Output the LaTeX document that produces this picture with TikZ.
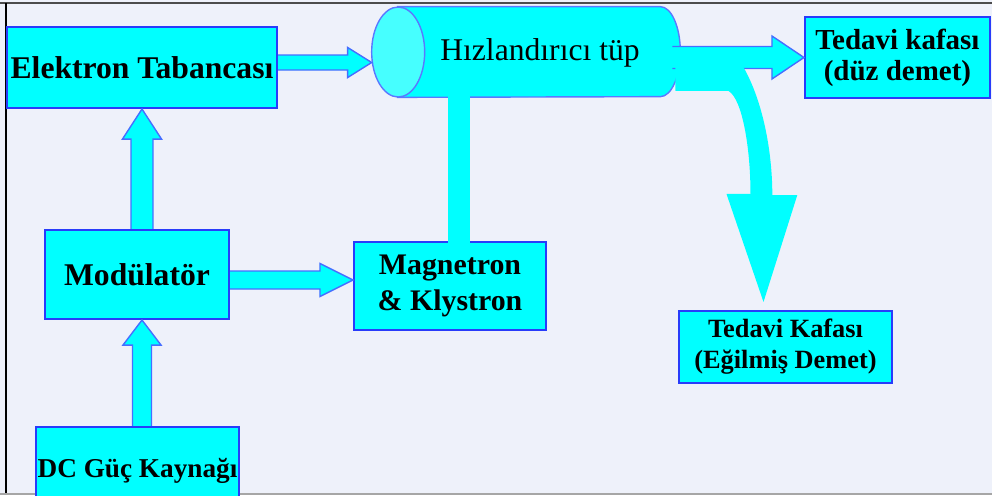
\documentclass[tikz,border=0pt]{standalone}
\usepackage{fontspec}
\setmainfont{Liberation Serif}
\usetikzlibrary{calc}

\definecolor{bgcol}{RGB}{238,241,250}
\definecolor{boxcyan}{RGB}{0,255,255}
\definecolor{facecyan}{RGB}{70,255,255}
\definecolor{boxline}{RGB}{40,60,250}
\definecolor{arrowline}{RGB}{70,110,255}
\definecolor{tubeline}{RGB}{90,120,255}

% block arrow: start, tip, half shaft, half head, head length
\newcommand{\blockarrow}[5]{%
  \coordinate (ba-s) at (#1);
  \coordinate (ba-t) at (#2);
  \coordinate (ba-h) at ($(ba-t)!#5!(ba-s)$);
  \path[arrowbody] ($(ba-s)!#3!-90:(ba-t)$) -- ($(ba-h)!#3!-90:(ba-t)$)
    -- ($(ba-h)!#4!-90:(ba-t)$) -- (ba-t) -- ($(ba-h)!#4!90:(ba-t)$)
    -- ($(ba-h)!#3!90:(ba-t)$) -- ($(ba-s)!#3!90:(ba-t)$);
}

\begin{document}
\begin{tikzpicture}[
    x=0.02cm, y=-0.02cm,
    block/.style={draw=boxline, line width=1.2pt, fill=boxcyan, inner sep=0pt, align=center},
    arrowbody/.style={fill=boxcyan, draw=arrowline, line width=0.8pt, line join=miter},
    tubebody/.style={fill=boxcyan, draw=tubeline, line width=0.8pt},
    tubeface/.style={fill=facecyan, draw=tubeline, line width=0.8pt},
    beam/.style={fill=boxcyan},
    feed/.style={draw=boxcyan, line width=0.44cm}
]
    \useasboundingbox[fill=bgcol] (0,0) rectangle (992,495);
    \draw[gray!60!black, line width=1.1pt] (0,3) -- (992,3);
    \draw[black, line width=1.1pt] (6,3) -- (6,495);
    \draw[gray!70, line width=0.8pt] (0,494) -- (992,494);

    % Node placement
    \node (gun) [block, minimum width=5.4cm, minimum height=1.62cm,
        font=\fontsize{18}{20}\selectfont\bfseries] at (142,67.5) {Elektron Tabancası};
    \node (mod) [block, minimum width=3.68cm, minimum height=1.78cm,
        font=\fontsize{18}{20}\selectfont\bfseries] at (137,274.5) {Modülatör};
    \node (dc) [block, minimum width=4.06cm, minimum height=1.76cm,
        font=\fontsize{15.5}{18}\selectfont\bfseries] at (137.5,471) {DC Güç Kaynağı};
    \node (mag) [block, minimum width=3.84cm, minimum height=1.76cm,
        font=\fontsize{17}{20.5}\selectfont\bfseries] at (450,286) {Magnetron\\\& Klystron};
    \node (straight) [block, minimum width=3.7cm, minimum height=1.62cm,
        font=\fontsize{16.5}{17.5}\selectfont\bfseries] at (897.5,57.5) {Tedavi kafası\\(düz demet)};
    \node (bent) [block, minimum width=4.26cm, minimum height=1.44cm,
        font=\fontsize{15}{17.6}\selectfont\bfseries] at (785.5,347) {Tedavi Kafası\\(Eğilmiş Demet)};

    % Accelerator tube
    \node (tube) [minimum width=6.16cm, minimum height=1.8cm, inner sep=0pt] at (526,52) {};
    \path[tubebody] ($(tube.north west)+(26,0)$) -- ($(tube.north east)+(-20,0)$)
        arc[start angle=90, end angle=-90, x radius=0.4cm, y radius=0.9cm]
        -- ($(tube.south west)+(26,0)$) -- cycle;
    \path[tubeface] ($(tube.west)+(26.5,0)$) ellipse [x radius=0.53cm, y radius=0.9cm];
    \coordinate (fd) at ($(mag.north)+(9,2)$);
    \draw[feed] (fd) -- ($(fd |- tube.south)+(0,-3)$);
    \node (tubelabel) [font=\fontsize{18}{20}\selectfont] at (540,53) {Hızlandırıcı tüp};

    % Arrows
    \coordinate (gt) at ($(gun.east)+(0,-5)$);
    \blockarrow{gt}{gt -| tube.west}{0.15cm}{0.3cm}{0.48cm}
    \blockarrow{gun.south |- mod.north}{gun.south}{0.22cm}{0.39cm}{0.6cm}
    \blockarrow{gun.south |- dc.north}{gun.south |- mod.south}{0.19cm}{0.38cm}{0.5cm}
    \coordinate (mm) at ($(mod.east)+(0,5.5)$);
    \blockarrow{mm}{mm -| mag.west}{0.18cm}{0.33cm}{0.66cm}

    % Beams
    \coordinate (sb) at ($(tube.east |- straight.west)+(-8,0)$);
    \blockarrow{sb}{straight.west}{0.22cm}{0.43cm}{0.64cm}
    \coordinate (bs) at ($(tube.east)+(-5,15)$);
    \coordinate (btip) at ($(bent.north)+(-22,-8)$);
    \fill[beam] (bs) -- ++(68,0) .. controls +(19,33) and +(0,-45) .. ++(29,128)
        -- ++(25,0) -- (btip) -- ++(-37,-108) -- ++(24,0)
        .. controls +(0,-45) and +(14,8) .. ++(-22,-103) -- ++(-53,0) -- cycle;

\end{tikzpicture}
\end{document}
